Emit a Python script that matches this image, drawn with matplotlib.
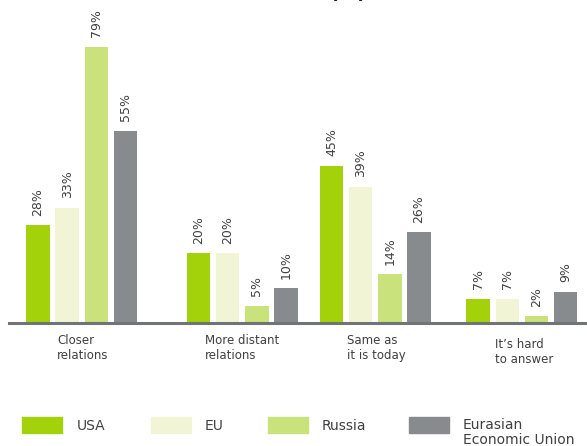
import matplotlib
matplotlib.use("Agg")
import matplotlib.pyplot as plt
from matplotlib.patches import Rectangle

# --- data -------------------------------------------------------------
categories = ["Closer\nrelations", "More distant\nrelations",
              "Same as\nit is today", "It\u2019s hard\nto answer"]
series_names = ["USA", "EU", "Russia", "Eurasian\nEconomic Union"]
usa = [28, 20, 45, 7]
eu = [33, 20, 39, 7]
russia = [79, 5, 14, 2]
eaeu = [55, 10, 26, 9]

# --- style / layout ---------------------------------------------------
colors = ["#a4d20a", "#f1f5d6", "#c9e27b", "#878b8d"]
axis_color = "#717476"
text_color = "#404040"
W, H = 587, 446
px_per_pct = 3.5
baseline_px = 323           # baseline position measured from top
group_centers = [81.7, 242.2, 375.2, 521.9]
bar_width = 23.5
bar_pitch = 29.2
cat_label_x = [57, 205, 347, 495]
cat_label_top = [344, 344, 344, 348]   # first-line baselines

fig = plt.figure(figsize=(W / 100, H / 100), dpi=100)
ax = fig.add_axes([9 / W, (H - baseline_px) / H, (W - 9) / W, baseline_px / H])
ax.set_xlim(9, W)
ax.set_ylim(0, baseline_px / px_per_pct)
ax.axis("off")

series = [usa, eu, russia, eaeu]
for si, (vals, col) in enumerate(zip(series, colors)):
    offset = (si - 1.5) * bar_pitch
    xs = [c + offset for c in group_centers]
    ax.bar(xs, vals, width=bar_width, color=col, zorder=2)
    for x, v in zip(xs, vals):
        ax.text(x, v + 2.6, f"{v}%", rotation=90, ha="center", va="bottom",
                fontsize=9, color=text_color, family="DejaVu Sans")

# baseline rule
ax.axhline(0, color=axis_color, lw=2.2, zorder=3, clip_on=False)

def fy(py):
    return 1 - py / H

# category labels below the axis
for lab, lx, ly in zip(categories, cat_label_x, cat_label_top):
    for k, line in enumerate(lab.split("\n")):
        fig.text(lx / W, fy(ly + 15 * k), line, ha="left", va="baseline",
                 fontsize=8.5, color=text_color)

# legend
patch_x = [22, 151, 268, 409]
text_x = [77, 205, 322, 463]
for name, col, px, tx in zip(series_names, colors, patch_x, text_x):
    fig.patches.append(Rectangle((px / W, fy(433)), 40 / W, 16 / H,
                                 transform=fig.transFigure, color=col))
    lines = name.split("\n")
    if len(lines) == 1:
        fig.text(tx / W, fy(430.5), lines[0], ha="left", va="baseline",
                 fontsize=10, color=text_color)
    else:
        for k, line in enumerate(lines):
            fig.text(tx / W, fy(428.7 + 15.6 * k), line, ha="left",
                     va="baseline", fontsize=10, color=text_color)

# title, largely above the visible area
fig.text(348 / W, fy(2), "(%)", ha="center", va="bottom",
         fontsize=14, fontweight="bold", color="#1a1a1a")

fig.savefig("out.png", dpi=100)
